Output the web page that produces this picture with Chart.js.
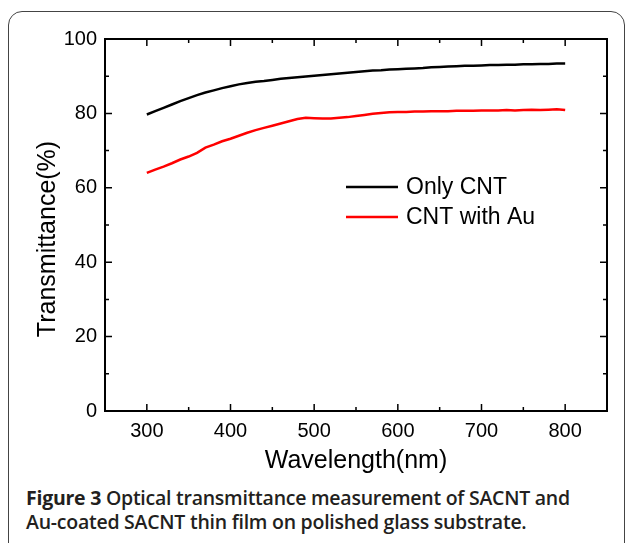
<!DOCTYPE html>
<html>
<head>
<meta charset="utf-8">
<script src="https://cdn.jsdelivr.net/npm/chart.js@4.4.1/dist/chart.umd.min.js"></script>
<style>
  body { margin: 0; background: #fff; width: 627px; height: 543px; overflow: hidden; position: relative; }
  #frame { position: absolute; left: 8px; top: 11px; width: 615px; height: 600px; border: 1.5px solid #444; border-radius: 14px; }
  #wrap { position: absolute; left: 0; top: 0; width: 627px; height: 480px; }
  #caption { position: absolute; left: 26px; top: 486px; font-family: "Open Sans", sans-serif; font-weight: 600; font-size: 19.5px; line-height: 24px; color: #231f20; letter-spacing: -0.25px; }
  #caption b { font-weight: 700; }
</style>
</head>
<body>
<div id="frame"></div>
<div id="wrap"><canvas id="grafico"></canvas></div>
<div id="caption"><b>Figure 3</b> Optical transmittance measurement of SACNT and<br>Au-coated SACNT thin film on polished glass substrate.</div>
<script>
// comprimentos de onda (nm)
const wavelength = [300, 310, 320, 330, 340, 350, 360, 370, 380, 390, 400, 410, 420, 430, 440, 450, 460, 470, 480, 490,
  500, 510, 520, 530, 540, 550, 560, 570, 580, 590, 600, 610, 620, 630, 640, 650, 660, 670, 680, 690,
  700, 710, 720, 730, 740, 750, 760, 770, 780, 790, 800];

const onlyCnt = [79.7, 80.6, 81.5, 82.4, 83.3, 84.1, 84.9, 85.6, 86.2, 86.8, 87.3, 87.8, 88.2, 88.5, 88.7, 89.0, 89.3, 89.5, 89.7, 89.9,
  90.1, 90.3, 90.5, 90.7, 90.9, 91.1, 91.3, 91.5, 91.6, 91.8, 91.9, 92.0, 92.1, 92.2, 92.4, 92.5, 92.6, 92.7, 92.8, 92.8,
  92.9, 93.0, 93.0, 93.1, 93.1, 93.2, 93.2, 93.3, 93.3, 93.4, 93.4];

const cntWithAu = [64.0, 64.9, 65.7, 66.6, 67.6, 68.4, 69.4, 70.8, 71.6, 72.5, 73.2, 74.0, 74.8, 75.5, 76.1, 76.7, 77.3, 77.9, 78.5, 78.8,
  78.7, 78.6, 78.6, 78.8, 79.0, 79.3, 79.6, 79.9, 80.1, 80.3, 80.4, 80.4, 80.5, 80.5, 80.6, 80.6, 80.6, 80.7, 80.7, 80.7,
  80.8, 80.8, 80.8, 80.9, 80.8, 80.9, 81.0, 80.9, 81.0, 81.1, 80.9];

const xTicks = [300, 400, 500, 600, 700, 800];
const yTicks = [0, 20, 40, 60, 80, 100];
const yTitulo = 'Transmittance(%)';

function pontos(serie) {
  return wavelength.map((w, i) => ({ x: w, y: serie[i] }));
}

// caixa + ticks para dentro nos quatro lados, legenda e titulo do eixo y
const caixaPlugin = {
  id: 'caixa',
  afterDraw(chart) {
    const ctx = chart.ctx;
    const a = chart.chartArea;
    const sx = chart.scales.x;
    const sy = chart.scales.y;
    ctx.save();
    ctx.strokeStyle = '#000';
    ctx.lineWidth = 2;
    ctx.strokeRect(a.left, a.top, a.right - a.left, a.bottom - a.top);
    ctx.lineWidth = 1.5;
    ctx.beginPath();
    sx.ticks.forEach(t => {
      if (t.value <= sx.min || t.value >= sx.max) return;
      const px = sx.getPixelForValue(t.value);
      const len = xTicks.includes(t.value) ? 7 : 4;
      ctx.moveTo(px, a.bottom); ctx.lineTo(px, a.bottom - len);
      ctx.moveTo(px, a.top); ctx.lineTo(px, a.top + len);
    });
    sy.ticks.forEach(t => {
      if (t.value <= sy.min || t.value >= sy.max) return;
      const py = sy.getPixelForValue(t.value);
      const len = yTicks.includes(t.value) ? 7 : 4;
      ctx.moveTo(a.left, py); ctx.lineTo(a.left + len, py);
      ctx.moveTo(a.right, py); ctx.lineTo(a.right - len, py);
    });
    ctx.stroke();

    // legenda
    ctx.font = '23px "Liberation Sans", Arial, sans-serif';
    ctx.textBaseline = 'middle';
    ctx.textAlign = 'left';
    ctx.fillStyle = '#000';
    chart.data.datasets.forEach((ds, i) => {
      const y = 187 + i * 30;
      ctx.strokeStyle = ds.borderColor;
      ctx.lineWidth = 2.5;
      ctx.beginPath();
      ctx.moveTo(346, y); ctx.lineTo(398, y);
      ctx.stroke();
      ctx.fillText(ds.label, 406, y + 1);
    });

    // titulo y (um pouco abaixo do centro, como no original)
    ctx.translate(48, (a.top + a.bottom) / 2 + 14);
    ctx.rotate(-Math.PI / 2);
    ctx.font = '25px "Liberation Sans", Arial, sans-serif';
    ctx.textAlign = 'center';
    ctx.fillText(yTitulo, 0, 0);
    ctx.restore();
  }
};

const fonteTick = { family: '"Liberation Sans", Arial, sans-serif', size: 20 };
const fonteTitulo = { family: '"Liberation Sans", Arial, sans-serif', size: 25 };

new Chart(document.getElementById('grafico'), {
  type: 'line',
  data: {
    datasets: [
      {
        label: 'Only CNT',
        data: pontos(onlyCnt),
        borderColor: '#000000',
        borderWidth: 2.5,
        pointRadius: 0,
        fill: false,
        tension: 0
      },
      {
        label: 'CNT with Au',
        data: pontos(cntWithAu),
        borderColor: '#ff0000',
        borderWidth: 2.5,
        pointRadius: 0,
        fill: false,
        tension: 0
      }
    ]
  },
  options: {
    responsive: true,
    maintainAspectRatio: false,
    animation: false,
    layout: {
      padding: { top: 39, right: 20, left: 0, bottom: 0 }
    },
    plugins: {
      legend: { display: false },
      tooltip: { enabled: false }
    },
    scales: {
      x: {
        type: 'linear',
        min: 250,
        max: 850,
        afterFit: s => { s.height = 69; },
        grid: { display: false, drawTicks: false },
        border: { display: false },
        ticks: {
          stepSize: 50,
          autoSkip: false,
          maxRotation: 0,
          padding: 8,
          color: '#000',
          font: fonteTick,
          callback: v => xTicks.includes(v) ? v : ''
        },
        title: {
          display: true,
          text: 'Wavelength(nm)',
          color: '#000',
          font: fonteTitulo,
          padding: { top: 0, bottom: 4 }
        }
      },
      y: {
        min: 0,
        max: 100,
        afterFit: s => { s.width = 105; },
        grid: { display: false, drawTicks: false },
        border: { display: false },
        ticks: {
          stepSize: 10,
          autoSkip: false,
          padding: 8,
          color: '#000',
          font: fonteTick,
          callback: v => yTicks.includes(v) ? v : ''
        },
        title: { display: false }
      }
    }
  },
  plugins: [caixaPlugin]
});
</script>
</body>
</html>
